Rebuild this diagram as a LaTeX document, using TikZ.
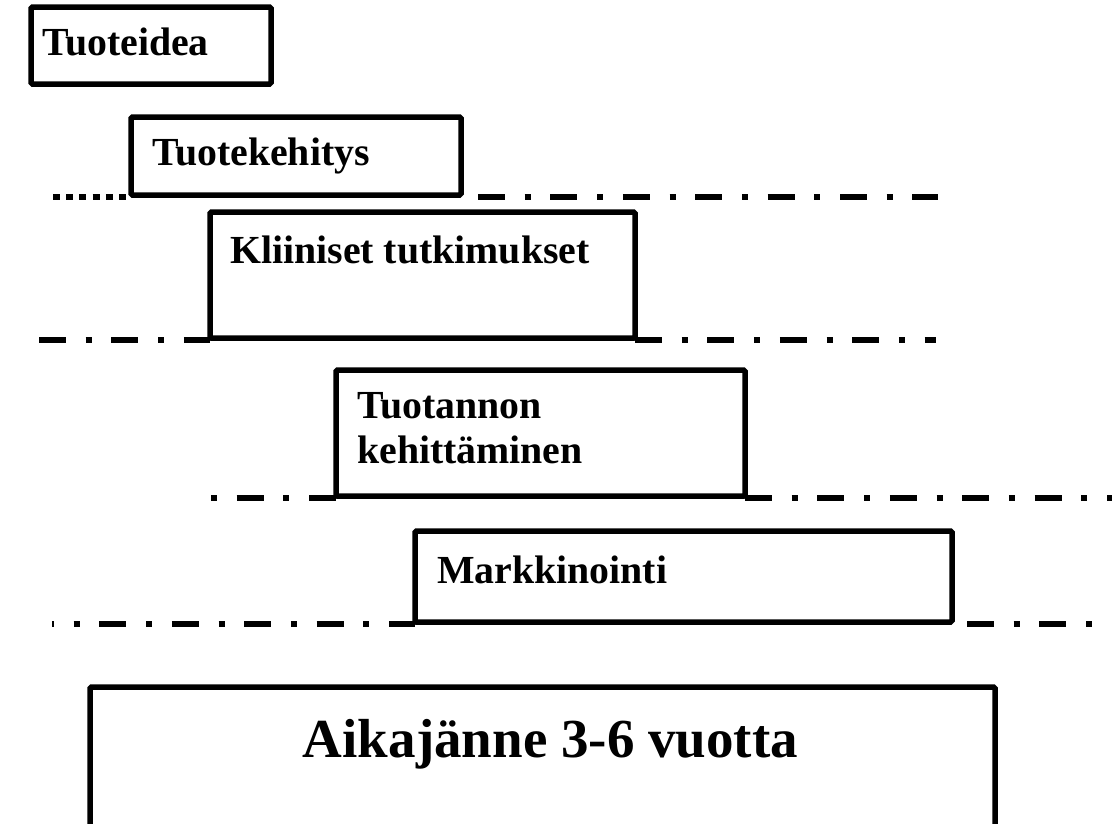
\documentclass[tikz,border=0pt]{standalone}
\usepackage{fontspec}
\setmainfont{Liberation Serif}

\begin{document}
\begin{tikzpicture}[x=1pt,y=-1pt]
    \tikzstyle{stagebox}=[draw=black, fill=white, line width=5.5pt, rounded corners=1.5pt, inner sep=0pt, outer sep=0pt, anchor=north west]
    \tikzstyle{stagetext}=[inner sep=0pt, anchor=base west, font=\fontsize{39.8}{45}\selectfont\bfseries]
    \tikzstyle{dashdot}=[line width=6pt, dash pattern=on 27pt off 19.7pt on 6pt off 19.7pt]
    \tikzstyle{dotline}=[line width=6pt, dash pattern=on 7pt off 6.2pt]
    \useasboundingbox (0,0) rectangle (1112,823);
    \clip (0,0) rectangle (1112,823);
    % phases
    \node [stagebox, minimum width=240pt, minimum height=77pt] (idea) at (31,7) {};
    \node [stagebox, minimum width=330pt, minimum height=78pt] (dev) at (131,117) {};
    \node [stagebox, minimum width=425pt, minimum height=126pt] (clin) at (210,212) {};
    \node [stagebox, minimum width=409pt, minimum height=126pt] (prod) at (336,370) {};
    \node [stagebox, minimum width=537pt, minimum height=91pt] (mark) at (415,531) {};
    \node [stagebox, minimum width=905pt, minimum height=160pt] (span) at (90,687) {};
    \node [stagetext] (ideatxt) at ([xshift=11pt,yshift=-48pt]idea.north west) {Tuoteidea};
    \node [stagetext] (devtxt) at ([xshift=21pt,yshift=-48pt]dev.north west) {Tuotekehitys};
    \node [stagetext] (clintxt) at ([xshift=20pt,yshift=-51pt]clin.north west) {Kliiniset tutkimukset};
    \node [stagetext] (prodtxt) at ([xshift=21pt,yshift=-48pt]prod.north west) {Tuotannon};
    \node [stagetext] (prodtxtb) at ([xshift=21pt,yshift=-93pt]prod.north west) {kehittäminen};
    \node [stagetext] (marktxt) at ([xshift=22pt,yshift=-52pt]mark.north west) {Markkinointi};
    \node [inner sep=0pt, anchor=base, font=\fontsize{55}{60}\selectfont\bfseries] (spantxt) at ([xshift=8pt,yshift=-70pt]span.north) {Aikajänne 3-6 vuotta};
    % time lines
    \coordinate (a0) at (53,197);
    \coordinate (a1) at (938,197);
    \coordinate (b0) at (39,340);
    \coordinate (b1) at (936,340);
    \coordinate (c0) at (211,498);
    \coordinate (c1) at (1112,498);
    \coordinate (d0) at (52,624);
    \coordinate (d1) at (1093,624);
    \draw [dotline] (a0) -- (a0 -| dev.west);
    \draw [dashdot, dash phase=55.4pt] (dev.east |- a1) -- (a1);
    \draw [dashdot] (b0) -- (b0 -| clin.west);
    \draw [dashdot] (clin.east |- b1) -- (b1);
    \draw [dashdot, dash phase=46.7pt] (c0) -- (c0 -| prod.west);
    \draw [dashdot] (prod.east |- c1) -- (c1);
    \draw [dashdot, dash phase=25pt] (d0) -- (d0 -| mark.west);
    \draw [dashdot, dash phase=57.4pt] (mark.east |- d1) -- (d1);
\end{tikzpicture}
\end{document}
